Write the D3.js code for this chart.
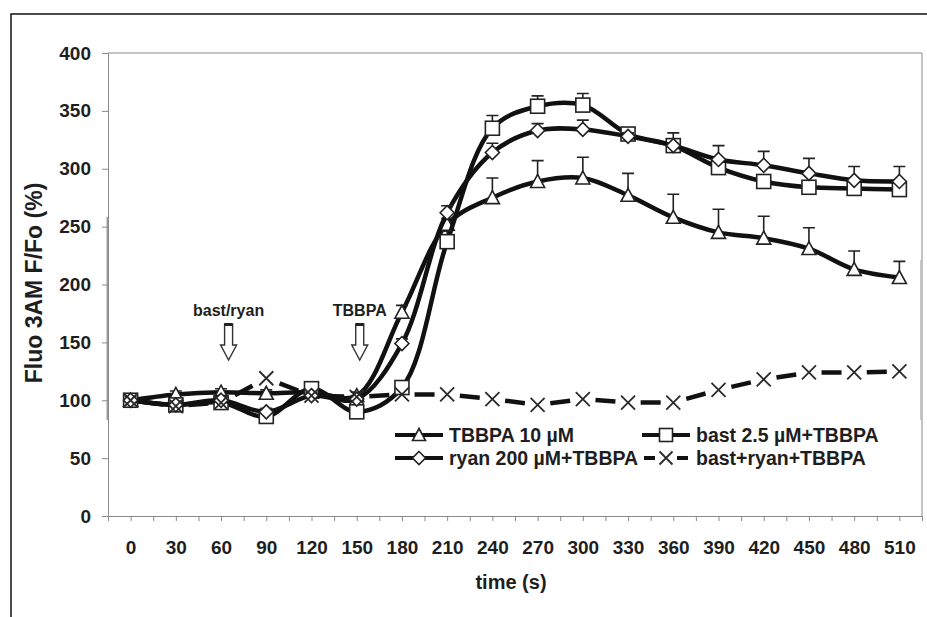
<!DOCTYPE html>
<html>
<head>
<meta charset="utf-8">
<script src="https://d3js.org/d3.v7.min.js"></script>
<style>
  body { margin: 0; background: #fff; }
  text { font-family: "Liberation Sans", Arial, sans-serif; font-weight: bold; fill: #1e1e1e; }
</style>
</head>
<body>
<script>
  var width = 927;
  var height = 617;

  // time points (s)
  var times = [0, 30, 60, 90, 120, 150, 180, 210, 240, 270, 300, 330, 360, 390, 420, 450, 480, 510];

  // Fluo 3AM F/Fo (%) and upper error bars
  var tbbpa    = [100, 105, 107, 106, 107, 104, 176, 252, 275, 289, 292, 277, 258, 245, 240, 231, 213, 206];
  var tbbpaErr = [3, 3, 3, 3, 4, 3, 6, 5, 17, 18, 18, 19, 20, 20, 19, 18, 16, 14];

  var bast     = [100, 96, 98, 86, 110, 90, 111, 237, 335, 354, 355, 330, 320, 301, 289, 284, 283, 282];
  var bastErr  = [3, 3, 3, 4, 5, 4, 5, 9, 11, 9, 10, 4, 4, 4, 4, 3, 3, 3];

  var ryan     = [100, 96, 100, 90, 104, 101, 149, 262, 314, 333, 334, 328, 320, 308, 303, 296, 290, 289];
  var ryanErr  = [3, 3, 3, 3, 3, 3, 4, 6, 8, 6, 8, 3, 11, 12, 12, 13, 12, 13];

  var combo    = [100, 95, 98, 119, 104, 103, 105, 105, 101, 96, 101, 98, 98, 109, 118, 124, 124, 125];

  var yTicks = [0, 50, 100, 150, 200, 250, 300, 350, 400];

  var svg = d3.select("body").append("svg")
    .attr("width", width)
    .attr("height", height);

  // outer frame
  svg.append("rect")
    .attr("x", 11).attr("y", 14)
    .attr("width", 1000).attr("height", 700)
    .attr("fill", "none").attr("stroke", "#111").attr("stroke-width", 1.5);

  var plotLeft = 108, plotRight = 922, plotTop = 53, plotBottom = 516;

  // category axis: each time sits in the middle of a 30 s slot
  var x = d3.scaleLinear().domain([-15, 525]).range([plotLeft, plotRight]);
  var y = d3.scaleLinear().domain([0, 400]).range([plotBottom, plotTop]);

  // plot border (top / right)
  svg.append("path")
    .attr("d", "M" + plotLeft + "," + plotTop + "H" + plotRight + "V" + plotBottom)
    .attr("fill", "none").attr("stroke", "#8a8a8a").attr("stroke-width", 1);

  // scan shading on the frame
  svg.append("line").attr("x1", plotLeft - 0.5).attr("x2", plotLeft - 0.5).attr("y1", 217).attr("y2", 420)
    .attr("stroke", "#9a9a9a").attr("stroke-width", 2);
  svg.append("line").attr("x1", plotRight - 0.5).attr("x2", plotRight - 0.5).attr("y1", 260).attr("y2", 420)
    .attr("stroke", "#c4c4c4").attr("stroke-width", 3);

  var xAxis = d3.axisBottom(x)
    .tickValues(d3.range(-15, 526, 15))
    .tickSize(5)
    .tickPadding(20)
    .tickFormat(function(d) { return times.indexOf(d) >= 0 ? d : ""; });

  var gx = svg.append("g").attr("transform", "translate(0," + plotBottom + ")").call(xAxis);
  gx.selectAll("path, line").attr("stroke", "#8a8a8a");
  gx.selectAll("text").style("font-size", "19px").attr("fill", "#1e1e1e");

  var yAxis = d3.axisLeft(y).tickValues(yTicks).tickSize(6).tickPadding(11);
  var gy = svg.append("g").attr("transform", "translate(" + plotLeft + ",0)").call(yAxis);
  gy.selectAll("path, line").attr("stroke", "#8a8a8a");
  gy.selectAll("text").style("font-size", "19px").attr("fill", "#1e1e1e");

  // axis titles
  svg.append("text")
    .attr("x", 511).attr("y", 589)
    .attr("text-anchor", "middle")
    .style("font-size", "20px")
    .text("time (s)");

  svg.append("text")
    .attr("transform", "translate(42,283) rotate(-90)")
    .attr("text-anchor", "middle")
    .style("font-size", "23px")
    .text("Fluo 3AM F/Fo (%)");

  // markers
  function marker(g, type, cx, cy, s) {
    var h = s / 2;
    if (type == "triangle") {
      g.append("path")
        .attr("d", "M" + cx + "," + (cy - h) + "L" + (cx + h) + "," + (cy + h * 0.85) + "L" + (cx - h) + "," + (cy + h * 0.85) + "Z")
        .attr("fill", "#fff").attr("stroke", "#222").attr("stroke-width", 1.6);
    } else if (type == "square") {
      g.append("rect")
        .attr("x", cx - h).attr("y", cy - h).attr("width", s).attr("height", s)
        .attr("fill", "#fff").attr("stroke", "#222").attr("stroke-width", 1.6);
    } else if (type == "diamond") {
      g.append("path")
        .attr("d", "M" + cx + "," + (cy - h) + "L" + (cx + h) + "," + cy + "L" + cx + "," + (cy + h) + "L" + (cx - h) + "," + cy + "Z")
        .attr("fill", "#fff").attr("stroke", "#222").attr("stroke-width", 1.6);
    } else {
      g.append("path")
        .attr("d", "M" + (cx - h) + "," + (cy - h) + "L" + (cx + h) + "," + (cy + h) + "M" + (cx + h) + "," + (cy - h) + "L" + (cx - h) + "," + (cy + h))
        .attr("fill", "none").attr("stroke", "#2a2a2a").attr("stroke-width", 1.8);
    }
  }

  var series = [
    { name: "TBBPA 10 µM", values: tbbpa, err: tbbpaErr, type: "triangle" },
    { name: "bast 2.5 µM+TBBPA", values: bast, err: bastErr, type: "square" },
    { name: "ryan 200 µM+TBBPA", values: ryan, err: ryanErr, type: "diamond" },
    { name: "bast+ryan+TBBPA", values: combo, err: null, type: "cross" }
  ];

  var line = d3.line()
    .x(function(d) { return x(d[0]); })
    .y(function(d) { return y(d[1]); })
    .curve(d3.curveCatmullRom.alpha(0.5));

  series.forEach(function(s) {
    var g = svg.append("g");
    var pts = times.map(function(t, i) { return [t, s.values[i]]; });

    if (s.type == "cross") {
      // one dash centred between each pair of points
      for (var i = 0; i + 1 < pts.length; i++) {
        var x1 = x(pts[i][0]), y1 = y(pts[i][1]), x2 = x(pts[i + 1][0]), y2 = y(pts[i + 1][1]);
        var len = Math.sqrt((x2 - x1) * (x2 - x1) + (y2 - y1) * (y2 - y1));
        var dash = 20, gap = (len - dash) / 2;
        g.append("line")
          .attr("x1", x1).attr("y1", y1).attr("x2", x2).attr("y2", y2)
          .attr("stroke", "#111").attr("stroke-width", 4.5)
          .attr("stroke-dasharray", "0," + gap + "," + dash + "," + len);
      }
    } else {
      g.append("path")
        .attr("d", line(pts))
        .attr("fill", "none").attr("stroke", "#111").attr("stroke-width", 4.5);
      pts.forEach(function(p, i) {
        var cx = x(p[0]), cy = y(p[1]), ty = y(p[1] + s.err[i]);
        g.append("path")
          .attr("d", "M" + cx + "," + cy + "V" + ty + "M" + (cx - 6) + "," + ty + "H" + (cx + 6))
          .attr("fill", "none").attr("stroke", "#222").attr("stroke-width", 1.6);
      });
    }
    pts.forEach(function(p) { marker(g, s.type, x(p[0]), y(p[1]), 14); });
  });

  // event arrows
  var arrows = [
    { label: "bast/ryan", t: 65 },
    { label: "TBBPA", t: 152 }
  ];
  arrows.forEach(function(a) {
    var cx = x(a.t);
    svg.append("text")
      .attr("x", cx).attr("y", 316)
      .attr("text-anchor", "middle")
      .style("font-size", "16px")
      .attr("fill", "#3a3a3a")
      .text(a.label);
    svg.append("path")
      .attr("d", "M" + (cx - 4) + ",324V345H" + (cx - 8) + "L" + cx + ",360L" + (cx + 8) + ",345H" + (cx + 4) + "V324Z")
      .attr("fill", "#fff").attr("stroke", "#333").attr("stroke-width", 1.4);
    svg.append("rect")
      .attr("x", cx - 4).attr("y", 323).attr("width", 8).attr("height", 3)
      .attr("fill", "#222");
  });

  // legend
  var legendPos = [[395, 435], [642, 435], [395, 458], [642, 458]];
  series.forEach(function(s, i) {
    var lx = legendPos[i][0], ly = legendPos[i][1];
    var g = svg.append("g");
    if (s.type == "cross") {
      g.append("line").attr("x1", lx + 2).attr("x2", lx + 13).attr("y1", ly).attr("y2", ly)
        .attr("stroke", "#111").attr("stroke-width", 4);
      g.append("line").attr("x1", lx + 35).attr("x2", lx + 46).attr("y1", ly).attr("y2", ly)
        .attr("stroke", "#111").attr("stroke-width", 4);
    } else {
      g.append("line").attr("x1", lx).attr("x2", lx + 48).attr("y1", ly).attr("y2", ly)
        .attr("stroke", "#111").attr("stroke-width", 4);
    }
    marker(g, s.type, lx + 24, ly, 13);
    g.append("text")
      .attr("x", lx + 54).attr("y", ly + 7)
      .style("font-size", "19.5px")
      .text(s.name);
  });
</script>
</body>
</html>
